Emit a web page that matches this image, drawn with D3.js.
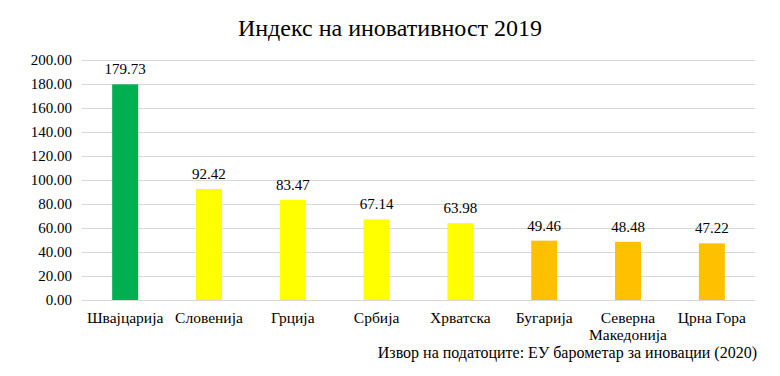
<!DOCTYPE html>
<html>
<head>
<meta charset="utf-8">
<script src="https://cdn.jsdelivr.net/npm/d3@7"></script>
<style>
  body { margin: 0; background: white; }
  svg text { font-family: "Liberation Serif", "DejaVu Serif", serif; fill: #000; }
</style>
</head>
<body>
<div id="chart"></div>
<script>
// data
const countries = ["Шваjцарија", "Словенија", "Грција", "Србија", "Хрватска", "Бугарија", "Северна Македонија", "Црна Гора"];
const values = [179.73, 92.42, 83.47, 67.14, 63.98, 49.46, 48.48, 47.22];
const barColors = ["#00B050", "#FFFF00", "#FFFF00", "#FFFF00", "#FFFF00", "#FFC000", "#FFC000", "#FFC000"];
const yTicks = [0, 20, 40, 60, 80, 100, 120, 140, 160, 180, 200];

const serif = '"Liberation Serif", "DejaVu Serif", serif';

var dimensions = {
    width: 780,
    height: 376,
    margin: { top: 60, bottom: 76, right: 25, left: 82 }
};

var svg = d3.select("#chart").append("svg")
    .attr("width", dimensions.width)
    .attr("height", dimensions.height)
    .attr("font-family", serif);

const innerW = dimensions.width - dimensions.margin.left - dimensions.margin.right;
const innerH = dimensions.height - dimensions.margin.top - dimensions.margin.bottom;

const g = svg.append("g")
    .attr("transform", `translate(${dimensions.margin.left},${dimensions.margin.top})`);

let x = d3.scaleBand().domain(countries).range([0, innerW]).paddingInner(0.69).paddingOuter(0.36);
let y = d3.scaleLinear().domain([0, 200]).range([innerH, 0]);

// gridlines + y labels
const yAxis = g.append("g")
    .call(d3.axisLeft(y).tickValues(yTicks).tickSize(-innerW).tickFormat(d3.format(".2f")))
    .attr("font-family", serif);
yAxis.select(".domain").remove();
yAxis.selectAll(".tick line").attr("stroke", "#d9d9d9").attr("stroke-width", 1);
yAxis.selectAll(".tick text").attr("x", -10).attr("font-size", 15);

// bars
g.selectAll(".bar")
    .data(values)
    .enter().append("rect")
    .attr("class", "bar")
    .attr("x", (d, i) => x(countries[i]))
    .attr("y", d => y(d))
    .attr("width", x.bandwidth())
    .attr("height", d => innerH - y(d))
    .attr("fill", (d, i) => barColors[i]);

// value labels
g.selectAll(".val")
    .data(values)
    .enter().append("text")
    .attr("class", "val")
    .attr("x", (d, i) => x(countries[i]) + x.bandwidth() / 2)
    .attr("y", d => y(d) - 10)
    .attr("text-anchor", "middle")
    .attr("font-size", 15)
    .text(d => d.toFixed(2));

// category labels (the long two-word one wraps onto a second line)
const catY = innerH + 23;
countries.forEach(d => {
    const words = d === "Северна Македонија" ? d.split(" ") : [d];
    words.forEach((w, i) => {
        g.append("text")
          .attr("class", "cat")
          .attr("text-anchor", "middle")
          .attr("x", x(d) + x.bandwidth() / 2)
          .attr("y", catY + i * 17)
          .attr("font-size", 15.5)
          .text(w);
    });
});

// title
svg.append("text")
    .attr("x", 390)
    .attr("y", 36)
    .attr("text-anchor", "middle")
    .attr("font-size", 24)
    .text("Индекс на иновативност 2019");

// source
svg.append("text")
    .attr("x", 757)
    .attr("y", 358)
    .attr("text-anchor", "end")
    .attr("font-size", 16)
    .text("Извор на податоците: ЕУ барометар за иновации (2020)");
</script>
</body>
</html>
